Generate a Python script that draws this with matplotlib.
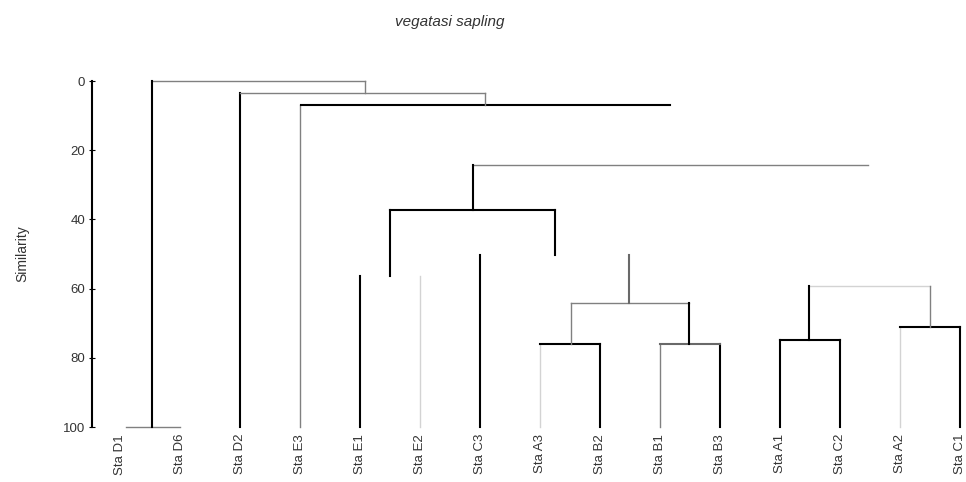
import matplotlib.pyplot as plt

plt.rcParams['font.family'] = ['Liberation Sans', 'DejaVu Sans']

# leaf order along the x axis
leaves = ['Sta D1', 'Sta D6', 'Sta D2', 'Sta E3', 'Sta E1', 'Sta E2', 'Sta C3',
          'Sta A3', 'Sta B2', 'Sta B1', 'Sta B3', 'Sta A1', 'Sta C2', 'Sta A2', 'Sta C1']
# similarity where each leaf line starts (it runs down to 100)
leaf_top = [100, 100, 3.5, 6.9, 56.4, 56.4, 50.3,
            76.0, 76.0, 76.0, 76.0, 74.9, 74.9, 71.1, 71.1]
leaf_color = ['k', 'k', 'k', 'gray', 'k', 'lightgray', 'k',
              'lightgray', 'k', 'gray', 'k', 'k', 'k', 'lightgray', 'k']

# horizontal joins: (from leaf pos, to leaf pos, similarity, colour)
joins = [
    (0.1, 1.0, 100, 'gray'),
    (0.53, 4.08, 0, 'gray'),
    (2.0, 6.08, 3.5, 'gray'),
    (3.02, 9.17, 6.9, 'k'),
    (5.88, 12.47, 24.3, 'gray'),
    (4.5, 7.25, 37.3, 'k'),
    (7.52, 9.48, 64.2, 'gray'),
    (7.0, 8.0, 76.0, 'k'),
    (9.0, 10.0, 76.0, 'dimgray'),
    (11.48, 13.5, 59.2, 'lightgray'),
    (11.0, 12.0, 74.9, 'k'),
    (13.0, 14.0, 71.1, 'k'),
]

# vertical stems between joins: (leaf pos, upper sim, lower sim, colour)
stems = [
    (0.53, 0, 100, 'k'),
    (4.08, 0, 3.5, 'gray'),
    (6.08, 3.5, 6.9, 'gray'),
    (5.88, 24.3, 37.3, 'k'),
    (4.5, 37.3, 56.4, 'k'),
    (7.25, 37.3, 50.3, 'k'),
    (8.48, 50.3, 64.2, 'dimgray'),
    (7.52, 64.2, 76.0, 'gray'),
    (9.48, 64.2, 76.0, 'k'),
    (11.48, 59.2, 74.9, 'k'),
    (13.5, 59.2, 71.1, 'gray'),
]

fig = plt.figure(figsize=(9.66, 4.82), dpi=100)
ax = fig.add_axes([92 / 966, 1 - 427 / 482, (960 - 92) / 966, (427 - 81) / 482])


def lw(c):
    return 1.5 if c in ('k', 'dimgray') else 1.0


for i, (top, c) in enumerate(zip(leaf_top, leaf_color)):
    if top < 100:
        ax.plot([i, i], [top, 100], color=c, lw=lw(c), clip_on=False)
for x0, x1, s, c in joins:
    ax.plot([x0, x1], [s, s], color=c, lw=lw(c), clip_on=False)
for x, s0, s1, c in stems:
    ax.plot([x, x], [s0, s1], color=c, lw=lw(c), clip_on=False)

ax.set_xlim(-0.467, 14.0)
ax.set_ylim(100, 0)
ax.set_yticks([0, 20, 40, 60, 80, 100])
ax.set_xticks(range(len(leaves)))
ax.set_xticklabels(leaves, rotation=90, fontsize=9.5, color='#333333')
ax.tick_params(axis='x', length=0, pad=5)
ax.tick_params(axis='y', direction='inout', length=4, labelsize=9.5,
               labelcolor='#333333', pad=3)
for side in ['top', 'right', 'bottom']:
    ax.spines[side].set_visible(False)
ax.spines['left'].set_linewidth(1.5)
ax.set_ylabel('Similarity', fontsize=10, color='#333333')
ax.yaxis.set_label_coords(-(92 - 29) / 868, (427 - 254) / 346)

fig.text(450 / 966, 1 - 22 / 482, 'vegatasi sapling', ha='center', va='center',
         fontsize=11, style='italic', color='#333333')

fig.savefig('out.png', dpi=100)
